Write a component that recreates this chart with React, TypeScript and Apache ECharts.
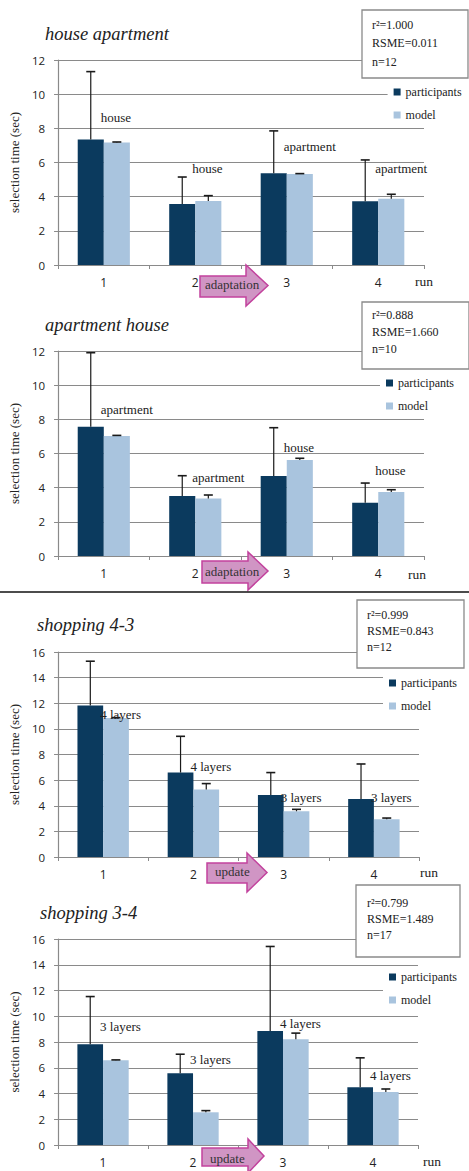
import React, { useEffect, useRef } from "react";
import * as echarts from "echarts";

// ---------- data ----------
const runs = ["1", "2", "3", "4"];
const seriesNames = ["participants", "model"];

// panel 1: house apartment
const p1Title = "house apartment";
const p1Participants = [7.34, 3.57, 5.37, 3.73];
const p1ParticipantsSD = [3.98, 1.58, 2.48, 2.42];
const p1Model = [7.17, 3.75, 5.33, 3.88];
const p1ModelSD = [0.03, 0.31, 0.02, 0.26];
const p1Labels = ["house", "house", "apartment", "apartment"];
const p1LabelY = [8.66, 5.62, 6.91, 5.62];
const p1Stats = ["r²=1.000", "RSME=0.011", "n=12"];
const p1Arrow = "adaptation";

// panel 2: apartment house
const p2Title = "apartment house";
const p2Participants = [7.57, 3.51, 4.68, 3.12];
const p2ParticipantsSD = [4.33, 1.19, 2.83, 1.15];
const p2Model = [7.03, 3.36, 5.62, 3.75];
const p2ModelSD = [0.03, 0.21, 0.1, 0.13];
const p2Labels = ["apartment", "apartment", "house", "house"];
const p2LabelY = [8.55, 4.58, 6.34, 5.03];
const p2Stats = ["r²=0.888", "RSME=1.660", "n=10"];
const p2Arrow = "adaptation";

// panel 3: shopping 4-3
const p3Title = "shopping 4-3";
const p3Participants = [11.82, 6.59, 4.84, 4.53];
const p3ParticipantsSD = [3.46, 2.83, 1.75, 2.73];
const p3Model = [10.85, 5.26, 3.57, 2.94];
const p3ModelSD = [0.03, 0.47, 0.15, 0.1];
const p3Labels = ["4 layers", "4 layers", "3 layers", "3 layers"];
const p3LabelY = [11.14, 7.03, 4.68, 4.68];
const p3Stats = ["r²=0.999", "RSME=0.843", "n=12"];
const p3Arrow = "update";

// panel 4: shopping 3-4
const p4Title = "shopping 3-4";
const p4Participants = [7.83, 5.57, 8.86, 4.49];
const p4ParticipantsSD = [3.7, 1.48, 6.56, 2.28];
const p4Model = [6.59, 2.54, 8.22, 4.12];
const p4ModelSD = [0.02, 0.13, 0.47, 0.23];
const p4Labels = ["3 layers", "3 layers", "4 layers", "4 layers"];
const p4LabelY = [9.18, 6.61, 9.46, 5.37];
const p4Stats = ["r²=0.799", "RSME=1.489", "n=17"];
const p4Arrow = "update";

const yMaxes = [12, 12, 16, 16];
const yAxisName = "selection time (sec)";
const runName = "run";

// ---------- styling / layout ----------
const DARK = "#0b3a5e";
const LIGHT = "#a9c4de";
const GRID = "#8a8a8a";
const TXT = "#222";
const SERIF = "Liberation Serif";
const SANS = "Open Sans";

const layouts = [
  {
    grid: { left: 58, right: 45, top: 60, height: 205 },
    title: [45, 34],
    box: [362, 10, 106, 68],
    stats: [372, 25, 18.3],
    legend: [387.6, 81],
    run: [415, 281],
    arrow: [200, 276, 297, 246, 265, 306, 268, 285.5],
    arrowText: [205, 284],
    nameGap: 30,
  },
  {
    grid: { left: 58, right: 45, top: 351, height: 205 },
    title: [45, 325],
    box: [362, 302, 107, 67],
    stats: [372, 315, 17],
    legend: [380, 372],
    run: [408, 574],
    arrow: [202, 561, 583, 248, 552, 590, 268, 571],
    arrowText: [205, 571.5],
    nameGap: 30,
  },
  {
    grid: { left: 53, right: 50, top: 652, height: 205 },
    title: [37, 625],
    box: [357, 600, 107, 68],
    stats: [367, 615, 16],
    legend: [383, 672],
    run: [420, 872],
    arrow: [207, 863, 883, 247, 853, 892, 267, 872.5],
    arrowText: [215, 871],
    nameGap: 29,
  },
  {
    grid: { left: 52, right: 51, top: 939, height: 206 },
    title: [40, 913],
    box: [356, 885, 104, 72],
    stats: [367, 903, 16],
    legend: [383, 966],
    run: [423, 1161],
    arrow: [202, 1148, 1166, 248, 1139, 1173, 264, 1156],
    arrowText: [210, 1158],
    nameGap: 29,
  },
];

const panels = [
  { title: p1Title, part: p1Participants, partSD: p1ParticipantsSD, model: p1Model, modelSD: p1ModelSD, labels: p1Labels, labelY: p1LabelY, stats: p1Stats, arrow: p1Arrow },
  { title: p2Title, part: p2Participants, partSD: p2ParticipantsSD, model: p2Model, modelSD: p2ModelSD, labels: p2Labels, labelY: p2LabelY, stats: p2Stats, arrow: p2Arrow },
  { title: p3Title, part: p3Participants, partSD: p3ParticipantsSD, model: p3Model, modelSD: p3ModelSD, labels: p3Labels, labelY: p3LabelY, stats: p3Stats, arrow: p3Arrow },
  { title: p4Title, part: p4Participants, partSD: p4ParticipantsSD, model: p4Model, modelSD: p4ModelSD, labels: p4Labels, labelY: p4LabelY, stats: p4Stats, arrow: p4Arrow },
];

const BAR_FRAC = 0.285;

function errorSeries(idx: number, name: string, vals: number[], sds: number[], sign: number) {
  return {
    type: "custom",
    name,
    xAxisIndex: idx,
    yAxisIndex: idx,
    silent: true,
    z: 5,
    data: vals.map((v, i) => [i, v, sds[i]]),
    renderItem: (_params: any, api: any) => {
      const cat = api.value(0);
      const v = api.value(1);
      const sd = api.value(2);
      const band = api.size([1, 0])[0];
      const p0 = api.coord([cat, v]);
      const p1 = api.coord([cat, v + sd]);
      const x = p0[0] + sign * band * BAR_FRAC * 0.5;
      return {
        type: "group",
        children: [
          { type: "line", shape: { x1: x, y1: p0[1], x2: x, y2: p1[1] }, style: { stroke: "#1a1a1a", lineWidth: 1.2 } },
          { type: "line", shape: { x1: x - 4.5, y1: p1[1], x2: x + 4.5, y2: p1[1] }, style: { stroke: "#1a1a1a", lineWidth: 1.6 } },
        ],
      };
    },
  };
}

function labelSeries(idx: number, labels: string[], ys: number[]) {
  return {
    type: "custom",
    name: "labels" + idx,
    xAxisIndex: idx,
    yAxisIndex: idx,
    silent: true,
    z: 6,
    data: ys.map((y, i) => [i, y]),
    renderItem: (params: any, api: any) => {
      const p = api.coord([api.value(0), api.value(1)]);
      return {
        type: "text",
        x: p[0] - 3,
        y: p[1],
        style: {
          text: labels[params.dataIndex],
          font: "13px " + SERIF,
          fontSize: 13,
          fontFamily: SERIF,
          fill: TXT,
          align: "left",
          verticalAlign: "middle",
          textAlign: "left",
          textVerticalAlign: "middle",
        },
      };
    },
  };
}

function buildOption() {
  const grids: any[] = [];
  const xAxes: any[] = [];
  const yAxes: any[] = [];
  const legends: any[] = [];
  const series: any[] = [];
  const graphics: any[] = [];

  panels.forEach((pn, i) => {
    const L = layouts[i];
    grids.push({ ...L.grid });
    xAxes.push({
      type: "category",
      gridIndex: i,
      data: runs,
      axisLine: { lineStyle: { color: GRID, width: 1.2 } },
      axisTick: { show: true, length: 4, lineStyle: { color: GRID } },
      axisLabel: { color: TXT, fontFamily: SANS, fontSize: 12, margin: 11 },
      splitLine: { show: false },
    });
    yAxes.push({
      type: "value",
      gridIndex: i,
      min: 0,
      max: yMaxes[i],
      interval: 2,
      name: yAxisName,
      nameLocation: "middle",
      nameGap: L.nameGap,
      nameRotate: 90,
      nameTextStyle: { fontFamily: SERIF, fontSize: 13, color: TXT },
      axisLine: { show: true, lineStyle: { color: GRID, width: 1.2 } },
      axisTick: { show: true, length: 4, lineStyle: { color: GRID } },
      axisLabel: { color: TXT, fontFamily: SANS, fontSize: 11.5, margin: 13 },
      splitLine: { show: true, lineStyle: { color: GRID, width: 1.2 } },
    });
    legends.push({
      data: seriesNames,
      orient: "vertical",
      left: L.legend[0],
      top: L.legend[1],
      padding: [4, 30, 4, 6],
      itemWidth: 7,
      itemHeight: 7,
      itemGap: 9,
      backgroundColor: "#ffffff",
      selectedMode: false,
      icon: "rect",
      textStyle: { fontFamily: SERIF, fontSize: 12, color: TXT, lineHeight: 14 },
    });
    series.push({
      type: "bar",
      name: seriesNames[0],
      xAxisIndex: i,
      yAxisIndex: i,
      data: pn.part,
      barWidth: (BAR_FRAC * 100).toFixed(1) + "%",
      barGap: "0%",
      itemStyle: { color: DARK },
      silent: true,
    });
    series.push({
      type: "bar",
      name: seriesNames[1],
      xAxisIndex: i,
      yAxisIndex: i,
      data: pn.model,
      barWidth: (BAR_FRAC * 100).toFixed(1) + "%",
      barGap: "0%",
      itemStyle: { color: LIGHT },
      silent: true,
    });
    series.push(errorSeries(i, "participants-err" + i, pn.part, pn.partSD, -1));
    series.push(errorSeries(i, "model-err" + i, pn.model, pn.modelSD, 1));
    series.push(labelSeries(i, pn.labels, pn.labelY));

    // title
    graphics.push({
      type: "text",
      x: L.title[0],
      y: L.title[1],
      z: 100,
      style: {
        text: pn.title,
        fontFamily: SERIF,
        fontSize: 18.5,
        fontStyle: "italic",
        fill: TXT,
        verticalAlign: "middle",
        textVerticalAlign: "middle",
      },
    });
    // stats box
    const [bx, by, bw, bh] = L.box;
    graphics.push({
      type: "rect",
      shape: { x: bx, y: by, width: bw, height: bh },
      style: { fill: "#ffffff", stroke: GRID, lineWidth: 1.3 },
      z: 100,
    });
    pn.stats.forEach((s, k) => {
      graphics.push({
        type: "text",
        x: L.stats[0],
        y: L.stats[1] + k * L.stats[2],
        z: 101,
        style: { text: s, fontFamily: SERIF, fontSize: 12, fill: TXT, verticalAlign: "middle", textVerticalAlign: "middle" },
      });
    });
    // run
    graphics.push({
      type: "text",
      x: L.run[0],
      y: L.run[1],
      z: 100,
      style: { text: runName, fontFamily: SERIF, fontSize: 13.5, fill: TXT, verticalAlign: "middle", textVerticalAlign: "middle" },
    });
    // arrow
    const [ax, bt, bb, hx, ht, hb, tx, ty] = L.arrow;
    graphics.push({
      type: "polygon",
      z: 100,
      shape: { points: [[ax, bt], [hx, bt], [hx, ht], [tx, ty], [hx, hb], [hx, bb], [ax, bb]] },
      style: { fill: "#d095c4", stroke: "#c2429d", lineWidth: 1.5 },
    });
    graphics.push({
      type: "text",
      x: L.arrowText[0],
      y: L.arrowText[1],
      z: 101,
      style: { text: pn.arrow, fontFamily: SERIF, fontSize: 13, fill: "#333", verticalAlign: "middle", textVerticalAlign: "middle" },
    });
  });

  // separator between the two figure halves
  graphics.push({
    type: "line",
    z: 100,
    shape: { x1: 0, y1: 592, x2: 469, y2: 592 },
    style: { stroke: "#111", lineWidth: 1.5 },
  });

  return {
    animation: false,
    backgroundColor: "#ffffff",
    grid: grids,
    xAxis: xAxes,
    yAxis: yAxes,
    legend: legends,
    series,
    graphic: graphics,
  };
}

export default function App() {
  const ref = useRef<HTMLDivElement>(null);
  useEffect(() => {
    document.body.style.margin = "0";
    const chart = echarts.init(ref.current!, null, { renderer: "svg" });
    chart.setOption(buildOption() as any);
    return () => chart.dispose();
  }, []);
  return <div ref={ref} style={{ width: 469, height: 1171 }} />;
}
